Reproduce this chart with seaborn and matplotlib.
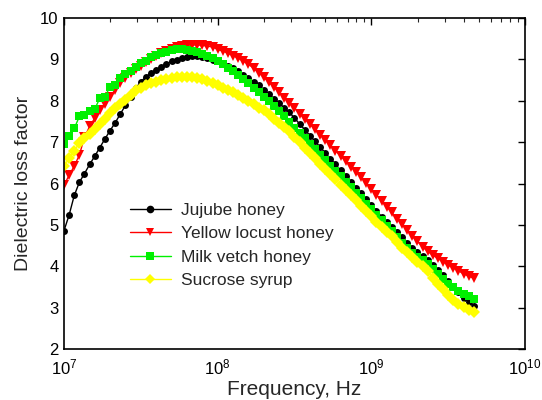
import numpy as np
import pandas as pd
import matplotlib
matplotlib.use("Agg")
import matplotlib.pyplot as plt
from matplotlib.lines import Line2D
from matplotlib.ticker import LogLocator
import seaborn as sns

# ---- data ----
freq_mhz = [10.0, 10.8, 11.66, 12.59, 13.59, 14.68, 15.85, 17.11, 18.48, 19.95,
            21.54, 23.26, 25.12, 27.12, 29.29, 31.62, 34.15, 36.87, 39.81, 42.99,
            46.42, 50.12, 54.12, 58.43, 63.10, 68.13, 73.56, 79.43, 85.77, 92.61,
            100.0, 108.0, 116.6, 125.9, 135.9, 146.8, 158.5, 171.1, 184.8, 199.5,
            215.4, 232.6, 251.2, 271.2, 292.9, 316.2, 341.5, 368.7, 398.1, 429.9,
            464.2, 501.2, 541.2, 584.3, 631.0, 681.3, 735.6, 794.3, 857.7, 926.1,
            1000, 1080, 1166, 1259, 1359, 1468, 1585, 1711, 1848, 1995,
            2154, 2326, 2512, 2712, 2929, 3162, 3415, 3687, 3981, 4299, 4642]

jujube = [4.86, 5.24, 5.71, 6.03, 6.24, 6.46, 6.66, 6.87, 7.08, 7.28,
          7.47, 7.68, 7.89, 8.08, 8.30, 8.46, 8.58, 8.67, 8.74, 8.82,
          8.89, 8.95, 8.99, 9.03, 9.05, 9.07, 9.07, 9.05, 9.03, 8.99,
          8.95, 8.90, 8.85, 8.78, 8.71, 8.63, 8.55, 8.46, 8.37, 8.27,
          8.16, 8.05, 7.94, 7.83, 7.72, 7.58, 7.44, 7.30, 7.16, 7.02,
          6.88, 6.74, 6.60, 6.46, 6.32, 6.18, 6.04, 5.90, 5.76, 5.62,
          5.48, 5.34, 5.20, 5.07, 4.95, 4.82, 4.70, 4.57, 4.45, 4.35,
          4.24, 4.14, 4.03, 3.90, 3.78, 3.64, 3.50, 3.37, 3.24, 3.13, 3.05]

yellow_locust = [5.96, 6.20, 6.42, 6.69, 7.12, 7.38, 7.58, 7.78, 7.92, 8.10,
                 8.27, 8.42, 8.56, 8.68, 8.77, 8.85, 8.94, 9.02, 9.09, 9.15,
                 9.20, 9.25, 9.29, 9.32, 9.34, 9.35, 9.35, 9.34, 9.32, 9.30,
                 9.24, 9.20, 9.15, 9.09, 9.03, 8.96, 8.88, 8.79, 8.68, 8.57,
                 8.45, 8.33, 8.20, 8.07, 7.95, 7.82, 7.69, 7.56, 7.44, 7.31,
                 7.18, 7.05, 6.92, 6.79, 6.67, 6.54, 6.41, 6.28, 6.15, 6.02,
                 5.87, 5.72, 5.58, 5.44, 5.30, 5.15, 5.02, 4.88, 4.73, 4.60,
                 4.47, 4.36, 4.27, 4.19, 4.11, 4.03, 3.96, 3.89, 3.82, 3.76, 3.71]

milk_vetch = [6.95, 7.14, 7.33, 7.62, 7.66, 7.75, 7.80, 8.06, 8.10, 8.34,
              8.38, 8.56, 8.64, 8.71, 8.82, 8.91, 8.97, 9.05, 9.10, 9.15,
              9.19, 9.22, 9.24, 9.24, 9.23, 9.21, 9.18, 9.14, 9.09, 9.03,
              8.96, 8.88, 8.80, 8.71, 8.62, 8.52, 8.42, 8.32, 8.21, 8.10,
              7.99, 7.87, 7.75, 7.62, 7.48, 7.35, 7.22, 7.09, 6.96, 6.83,
              6.70, 6.56, 6.43, 6.30, 6.17, 6.04, 5.91, 5.78, 5.64, 5.51,
              5.38, 5.25, 5.12, 4.98, 4.85, 4.70, 4.56, 4.43, 4.32, 4.23,
              4.15, 4.05, 3.93, 3.82, 3.70, 3.58, 3.49, 3.40, 3.33, 3.27, 3.21]

sucrose = [6.42, 6.62, 6.79, 6.98, 7.10, 7.20, 7.32, 7.44, 7.57, 7.71,
           7.82, 7.92, 8.01, 8.14, 8.26, 8.32, 8.38, 8.42, 8.46, 8.50,
           8.53, 8.55, 8.57, 8.58, 8.58, 8.57, 8.55, 8.52, 8.48, 8.44,
           8.38, 8.32, 8.26, 8.20, 8.14, 8.07, 7.99, 7.91, 7.83, 7.77,
           7.67, 7.57, 7.47, 7.37, 7.26, 7.12, 7.00, 6.87, 6.74, 6.61,
           6.48, 6.35, 6.23, 6.10, 5.97, 5.84, 5.72, 5.59, 5.46, 5.33,
           5.21, 5.08, 4.95, 4.82, 4.72, 4.58, 4.45, 4.34, 4.22, 4.10,
           4.00, 3.88, 3.72, 3.58, 3.45, 3.30, 3.18, 3.09, 3.02, 2.95, 2.90]

labels = ["Jujube honey", "Yellow locust honey", "Milk vetch honey", "Sucrose syrup"]
colors = ["#000000", "#ff0000", "#00f000", "#ffff00"]
markers = ["o", "v", "s", "D"]
msizes = [5.0, 7.0, 5.8, 6.0]
series = [jujube, yellow_locust, milk_vetch, sucrose]

# ---- figure ----
sns.set_style("white")
plt.rcParams["font.family"] = ["Liberation Sans", "DejaVu Sans"]
plt.rcParams["mathtext.fontset"] = "custom"
plt.rcParams["mathtext.rm"] = "Liberation Sans"

fig = plt.figure(figsize=(5.42, 4.0), dpi=100)
ax = fig.add_axes([64/542, 1-349/400, (525-64)/542, (349-18)/400])

freq_hz = np.array(freq_mhz) * 1e6
for lab, col, mk, ms, vals in zip(labels, colors, markers, msizes, series):
    df = pd.DataFrame({"f": freq_hz, "v": vals})
    sns.lineplot(data=df, x="f", y="v", ax=ax, color=col, marker=mk,
                 markersize=ms, markeredgewidth=0, linewidth=1.0,
                 label=None, legend=False)

ax.set_xscale("log")
ax.set_xlim(1e7, 1e10)
ax.set_ylim(2, 10)
ax.set_yticks([2, 3, 4, 5, 6, 7, 8, 9, 10])
ax.xaxis.set_major_locator(LogLocator(base=10, numticks=10))
ax.xaxis.set_minor_locator(LogLocator(base=10, subs=np.arange(2, 10), numticks=30))

ax.tick_params(axis="both", which="major", direction="in", length=5, width=1,
               top=True, right=True, labelsize=12, pad=6, colors="black")
ax.tick_params(axis="both", which="minor", direction="in", length=3, width=0.8,
               top=True, right=True)
ax.tick_params(axis="y", pad=4)
for sp in ax.spines.values():
    sp.set_color("black")
    sp.set_linewidth(1.2)

ax.set_xlabel("Frequency, Hz", fontsize=15, labelpad=2)
ax.set_ylabel("Dielectric loss factor", fontsize=14, labelpad=6)

handles = [Line2D([0], [0], color=c, marker=m, markersize=5.5, markeredgewidth=0, lw=1.0)
           for c, m in zip(colors, markers)]
ax.legend(handles, labels, loc="upper left", bbox_to_anchor=(0.143, 0.442),
          frameon=False, fontsize=12.5, handlelength=2.36, handletextpad=0.58,
          labelspacing=0.48, borderaxespad=0, borderpad=0)

fig.savefig("out.png", dpi=100)
